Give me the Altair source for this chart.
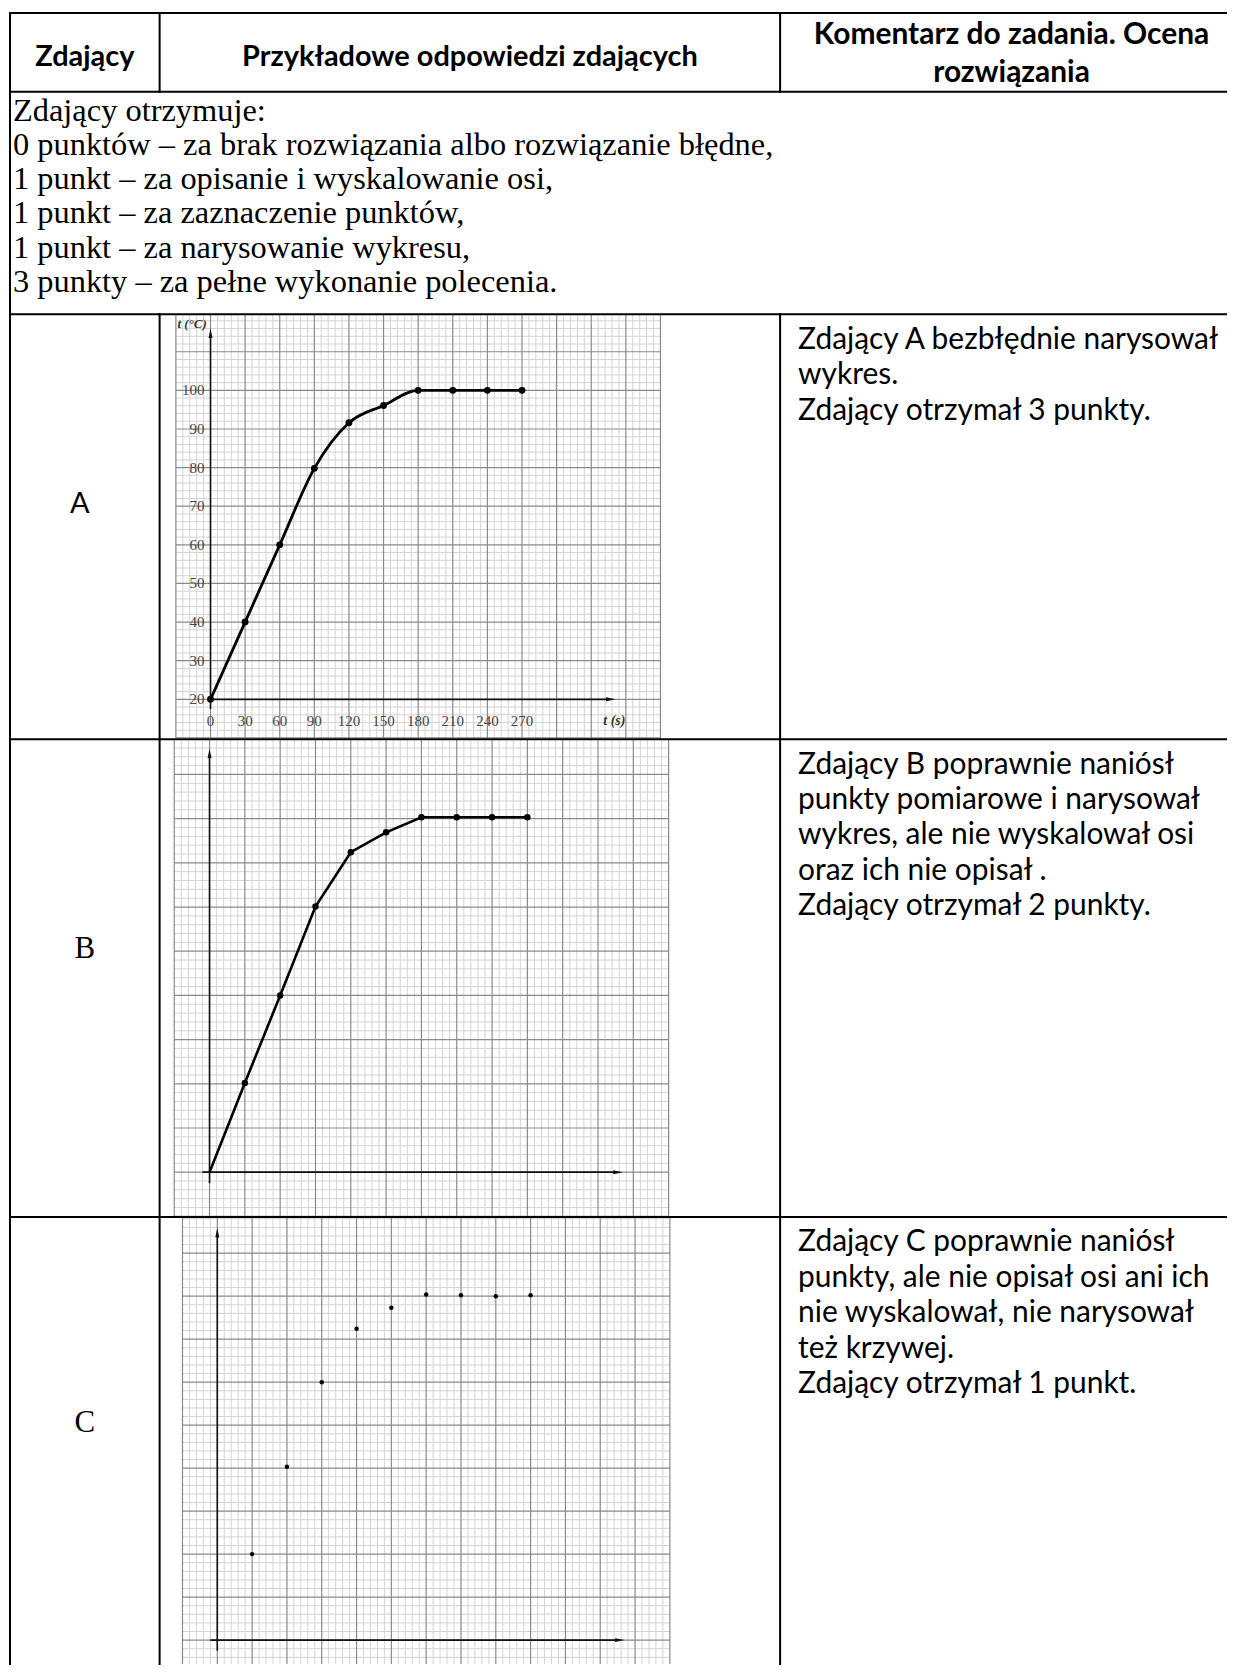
import altair as alt
import pandas as pd

# ---------------- data ----------------
TIME_S = [0, 30, 60, 90, 120, 150, 180, 210, 240, 270]
TEMP_A = [20, 40, 60, 79.8, 91.6, 96.1, 100, 100, 100, 100]
TEMP_B = [20, 40.2, 60, 80.1, 92.4, 96.9, 100.3, 100.3, 100.3, 100.3]
TIME_C = [30, 60, 90, 120, 150, 180, 210, 240, 270]
TEMP_C = [40, 60.3, 80, 92.4, 97.3, 100.4, 100.2, 100, 100.2]
X_TICK_LABELS = [0, 30, 60, 90, 120, 150, 180, 210, 240, 270]
Y_TICK_LABELS = [20, 30, 40, 50, 60, 70, 80, 90, 100]

HEADER_LEFT = ["Zdający"]
HEADER_MID = ["Przykładowe odpowiedzi zdających"]
HEADER_RIGHT = ["Komentarz do zadania. Ocena", "rozwiązania"]
RUBRIC = [
    "Zdający otrzymuje:",
    "0 punktów – za brak rozwiązania albo rozwiązanie błędne,",
    "1 punkt – za opisanie i wyskalowanie osi,",
    "1 punkt – za zaznaczenie punktów,",
    "1 punkt – za narysowanie wykresu,",
    "3 punkty – za pełne wykonanie polecenia.",
]
ROW_LABELS = ["A", "B", "C"]
COMMENT_A = ["Zdający A bezbłędnie narysował", "wykres.", "Zdający otrzymał 3 punkty."]
COMMENT_B = ["Zdający B poprawnie naniósł", "punkty pomiarowe i narysował",
             "wykres, ale nie wyskalował osi", "oraz ich nie opisał .",
             "Zdający otrzymał 2 punkty."]
COMMENT_C = ["Zdający C poprawnie naniósł", "punkty, ale nie opisał osi ani ich",
             "nie wyskalował, nie narysował", "też krzywej.",
             "Zdający otrzymał 1 punkt."]

# grid-paper tick positions (graph paper: major every 30 s / 10 °C, 5 subdivisions)
X_MAJOR = list(range(-30, 391, 30))
X_MINOR = [v for v in range(-30, 391, 6) if v % 30 != 0]
Y_MAJOR = list(range(0, 131, 10))
Y_MINOR = [v for v in range(0, 131, 2) if v % 10 != 0]

# ---------------- layout ----------------
COLW = [150, 622, 447]
H_HEAD, H_RUB, H_A, H_B, H_C = 79, 223, 426, 479, 448

SANS = "Lato"
SERIF = "Liberation Serif"
MAJOR_COL = "#8a8a8a"
MINOR_COL = "#d4d4d4"


def blank():
    return alt.Data(values=[{"k": 1}])


def borders(w, h, top=False, bottom=False, left=False, right=False):
    out = []
    base = alt.Chart(blank()).mark_rule(color="black", strokeWidth=2, strokeCap="square")
    if top:
        out.append(base.encode(x=alt.value(0), x2=alt.value(w), y=alt.value(0)))
    if bottom:
        out.append(base.encode(x=alt.value(0), x2=alt.value(w), y=alt.value(h)))
    if left:
        out.append(base.encode(x=alt.value(0), y=alt.value(0), y2=alt.value(h)))
    if right:
        out.append(base.encode(x=alt.value(w), y=alt.value(0), y2=alt.value(h)))
    return out


def text_layer(lines, x, y, align, font, size, weight="normal", lh=35.5):
    df = pd.DataFrame({"t": ["\n".join(lines)]})
    return alt.Chart(df).mark_text(
        align=align, baseline="alphabetic", font=font, fontSize=size,
        fontWeight=weight, lineBreak="\n", lineHeight=lh, color="black"
    ).encode(x=alt.value(x), y=alt.value(y), text="t:N")


def cell(layers, w, h):
    if not layers:
        layers = [alt.Chart(blank()).mark_text(text="").encode(x=alt.value(0), y=alt.value(0))]
    return alt.layer(*layers).properties(width=w, height=h)


def graph(h, xdom, ydom, kind):
    xs = alt.Scale(domain=xdom, nice=False, zero=False)
    ys = alt.Scale(domain=ydom, nice=False, zero=False)

    def X(f):
        return alt.X(f, scale=xs, axis=None)

    def Y(f):
        return alt.Y(f, scale=ys, axis=None)

    L = []
    # graph paper
    L.append(alt.Chart(pd.DataFrame({"x": X_MINOR})).mark_rule(
        color=MINOR_COL, strokeWidth=1, clip=True).encode(x=X("x:Q")))
    L.append(alt.Chart(pd.DataFrame({"y": Y_MINOR, "a": -30, "b": 390})).mark_rule(
        color=MINOR_COL, strokeWidth=1, clip=True).encode(y=Y("y:Q"), x=X("a:Q"), x2="b:Q"))
    L.append(alt.Chart(pd.DataFrame({"x": X_MAJOR})).mark_rule(
        color=MAJOR_COL, strokeWidth=1.2, clip=True).encode(x=X("x:Q")))
    L.append(alt.Chart(pd.DataFrame({"y": Y_MAJOR, "a": -30, "b": 390})).mark_rule(
        color=MAJOR_COL, strokeWidth=1.2, clip=True).encode(y=Y("y:Q"), x=X("a:Q"), x2="b:Q"))

    # hand-drawn axes with arrows
    y_lo, y_hi = 17.5, 114.5
    x_lo, x_hi = (0, 346) if kind == "A" else (-6, 346)
    L.append(alt.Chart(pd.DataFrame({"x": [0], "y0": [y_lo], "y1": [y_hi]})).mark_rule(
        color="#111", strokeWidth=1.6, clip=True).encode(x=X("x:Q"), y=Y("y0:Q"), y2="y1:Q"))
    L.append(alt.Chart(pd.DataFrame({"y": [20], "x0": [x_lo], "x1": [x_hi]})).mark_rule(
        color="#111", strokeWidth=1.8, clip=True).encode(y=Y("y:Q"), x=X("x0:Q"), x2="x1:Q"))
    L.append(alt.Chart(pd.DataFrame({"x": [0], "y": [y_hi]})).mark_point(
        shape="M0,-1L0.32,0.6L-0.32,0.6Z", filled=True, size=150, color="#111", opacity=1
    ).encode(x=X("x:Q"), y=Y("y:Q")))
    L.append(alt.Chart(pd.DataFrame({"x": [x_hi], "y": [20]})).mark_point(
        shape="M1,0L-0.6,0.32L-0.6,-0.32Z", filled=True, size=150, color="#111", opacity=1
    ).encode(x=X("x:Q"), y=Y("y:Q")))

    if kind == "A":
        L.append(alt.Chart(pd.DataFrame({"v": Y_TICK_LABELS, "x": 0})).mark_text(
            align="right", baseline="middle", dx=-6, font=SERIF, fontSize=15, color="#444"
        ).encode(x=X("x:Q"), y=Y("v:Q"), text="v:N"))
        L.append(alt.Chart(pd.DataFrame({"v": X_TICK_LABELS, "y": 20})).mark_text(
            align="center", baseline="middle", dy=22, font=SERIF, fontSize=15, color="#444"
        ).encode(x=X("v:Q"), y=Y("y:Q"), text="v:N"))
        L.append(alt.Chart(pd.DataFrame({"t": ["t (s)"], "x": [350], "y": [20]})).mark_text(
            align="center", baseline="middle", dy=22, font=SERIF, fontSize=14,
            fontStyle="italic", fontWeight="bold", color="#333"
        ).encode(x=X("x:Q"), y=Y("y:Q"), text="t:N"))
        L.append(alt.Chart(pd.DataFrame({"t": ["t (°C)"], "x": [-16], "y": [117.3]})).mark_text(
            align="center", baseline="middle", font=SERIF, fontSize=13,
            fontStyle="italic", fontWeight="bold", color="#333"
        ).encode(x=X("x:Q"), y=Y("y:Q"), text="t:N"))
        df = pd.DataFrame({"t": TIME_S, "v": TEMP_A})
        L.append(alt.Chart(df).mark_line(interpolate="monotone", color="black",
                                         strokeWidth=2.8).encode(x=X("t:Q"), y=Y("v:Q")))
        L.append(alt.Chart(df).mark_circle(size=48, color="black", opacity=1).encode(
            x=X("t:Q"), y=Y("v:Q")))
    elif kind == "B":
        df = pd.DataFrame({"t": TIME_S, "v": TEMP_B})
        L.append(alt.Chart(df).mark_line(color="black", strokeWidth=2.6).encode(
            x=X("t:Q"), y=Y("v:Q")))
        L.append(alt.Chart(df.iloc[1:]).mark_circle(size=42, color="black", opacity=1).encode(
            x=X("t:Q"), y=Y("v:Q")))
    else:
        df = pd.DataFrame({"t": TIME_C, "v": TEMP_C})
        L.append(alt.Chart(df).mark_circle(size=20, color="black", opacity=1).encode(
            x=X("t:Q"), y=Y("v:Q")))
    return L


cells = []
# header row
cells.append(cell(borders(COLW[0], H_HEAD, True, True, True, True)
                  + [text_layer(HEADER_LEFT, 75, 53, "center", SANS, 29, "bold")], COLW[0], H_HEAD))
cells.append(cell(borders(COLW[1], H_HEAD, True, True, False, True)
                  + [text_layer(HEADER_MID, 311, 53, "center", SANS, 29, "bold")], COLW[1], H_HEAD))
cells.append(cell(borders(COLW[2], H_HEAD, True, True)
                  + [text_layer(HEADER_RIGHT, 232, 31, "center", SANS, 30, "bold", lh=38)],
                  COLW[2], H_HEAD))
# rubric row
cells.append(cell(borders(COLW[0], H_RUB, left=True)
                  + [text_layer(RUBRIC, 3, 29, "left", SERIF, 32.5, lh=34.3)], COLW[0], H_RUB))
cells.append(cell([], COLW[1], H_RUB))
cells.append(cell([], COLW[2], H_RUB))

rows = [
    ("A", H_A, (-44.1, 493.7), (9.66, 119.7), COMMENT_A, SANS, 29, 70, 199),
    ("B", H_B, (-42.4, 484.7), (9.84, 117.97), COMMENT_B, SERIF, 31, 75, 219),
    ("C", H_C, (-49.7, 485.0), (14.45, 118.4), COMMENT_C, SERIF, 31, 75, 215),
]
for kind, h, xdom, ydom, comment, lfont, lsize, lx, ly in rows:
    label = ROW_LABELS[["A", "B", "C"].index(kind)]
    cells.append(cell(borders(COLW[0], h, True, False, True, True)
                      + [text_layer([label], lx, ly, "center", lfont, lsize)],
                      COLW[0], h))
    cells.append(cell(graph(h, xdom, ydom, kind) + borders(COLW[1], h, True, False, False, True),
                      COLW[1], h))
    cells.append(cell(borders(COLW[2], h, top=True)
                      + [text_layer(comment, 18, 34.5, "left", SANS, 30)], COLW[2], h))

chart = alt.ConcatChart(
    concat=cells, columns=3, spacing=0, align="each", bounds="flush"
).properties(
    padding={"left": 0, "top": 1, "right": 0, "bottom": 0}
).configure_view(strokeWidth=0)

chart.save("out.html", embed_options={"renderer": "svg", "actions": False})
